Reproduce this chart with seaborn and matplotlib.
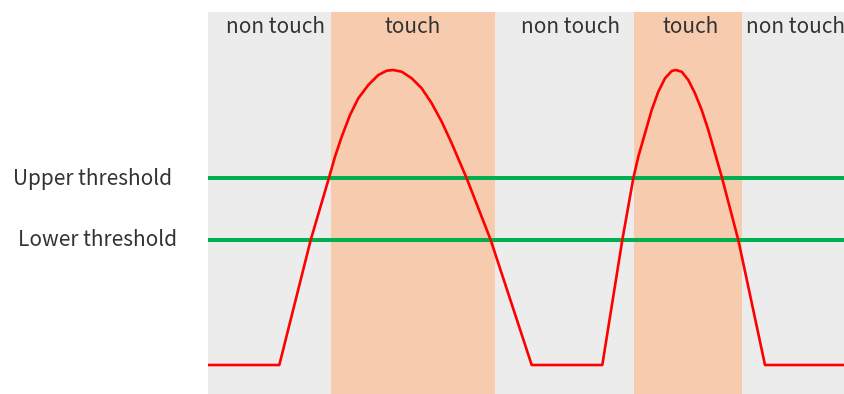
import matplotlib
matplotlib.use("Agg")
import matplotlib.pyplot as plt
import pandas as pd
import seaborn as sns

# Sensor signal (time in arbitrary units, signal level in arbitrary units)
time = [0, 71.3, 102.7, 121, 127, 133.7, 142, 150.3, 160.3, 170.3, 178.7, 185.3,
        193.7, 203.7, 213.7, 223.7, 233.7, 243.7, 253.7, 258.7, 282.7, 323.7,
        394.3, 414.3, 425.3, 430.3, 437, 443.7, 450.3, 457, 463.7, 467.7,
        473.7, 480.3, 487, 493.7, 500.3, 507, 513.7, 530.3, 557, 636]
signal = [29, 29, 154, 216.3, 237.3, 257.3, 279, 295.7, 309, 319, 323.3, 324,
          322.3, 315.7, 305.7, 290.7, 272.3, 250.7, 227.3, 215.7, 154, 29,
          29, 154, 215.7, 237.3, 260.7, 284, 302.3, 315.7, 323, 324,
          322.3, 314, 300.7, 284, 264, 240.7, 217.3, 154, 29, 29]

upper_threshold = 216
lower_threshold = 154

# touch / non touch periods
zone_edges = [0, 123, 287, 426, 534, 636]
zone_labels = ["non touch", "touch", "non touch", "touch", "non touch"]

df = pd.DataFrame({"time": time, "signal": signal})

sns.set_style("white")
plt.rcParams["font.family"] = ["Noto Sans CJK JP", "DejaVu Sans"]

zone_colors = {"touch": "#f7cbad", "non touch": "#ececec"}
label_shift = [6, 0, 6, 3, 2]
text_color = "#333333"

fig = plt.figure(figsize=(8.44, 3.94), dpi=100)
ax = fig.add_axes([208 / 844, 0, 636 / 844, 382 / 394])

for i, label in enumerate(zone_labels):
    x0, x1 = zone_edges[i], zone_edges[i + 1]
    ax.axvspan(x0, x1, color=zone_colors[label], lw=0, zorder=0)
    ax.text((x0 + x1) / 2 + label_shift[i], 361, label, ha="center", va="baseline",
            fontsize=15, color=text_color)

ax.axhline(upper_threshold, color="#00b050", lw=2.9, zorder=2)
ax.axhline(lower_threshold, color="#00b050", lw=2.9, zorder=2)

sns.lineplot(data=df, x="time", y="signal", sort=False, estimator=None,
             color="red", lw=1.9, ax=ax, zorder=3)
for line in ax.lines:
    line.set_solid_joinstyle("round")

ax.text(-115.5, upper_threshold + 1.5, "Upper threshold", ha="center",
        va="center_baseline", fontsize=15, color=text_color, clip_on=False)
ax.text(-110.5, lower_threshold + 2, "Lower threshold", ha="center",
        va="center_baseline", fontsize=15, color=text_color, clip_on=False)

ax.set_xlim(0, 636)
ax.set_ylim(0, 382)
ax.axis("off")

fig.savefig("out.png", dpi=100)
